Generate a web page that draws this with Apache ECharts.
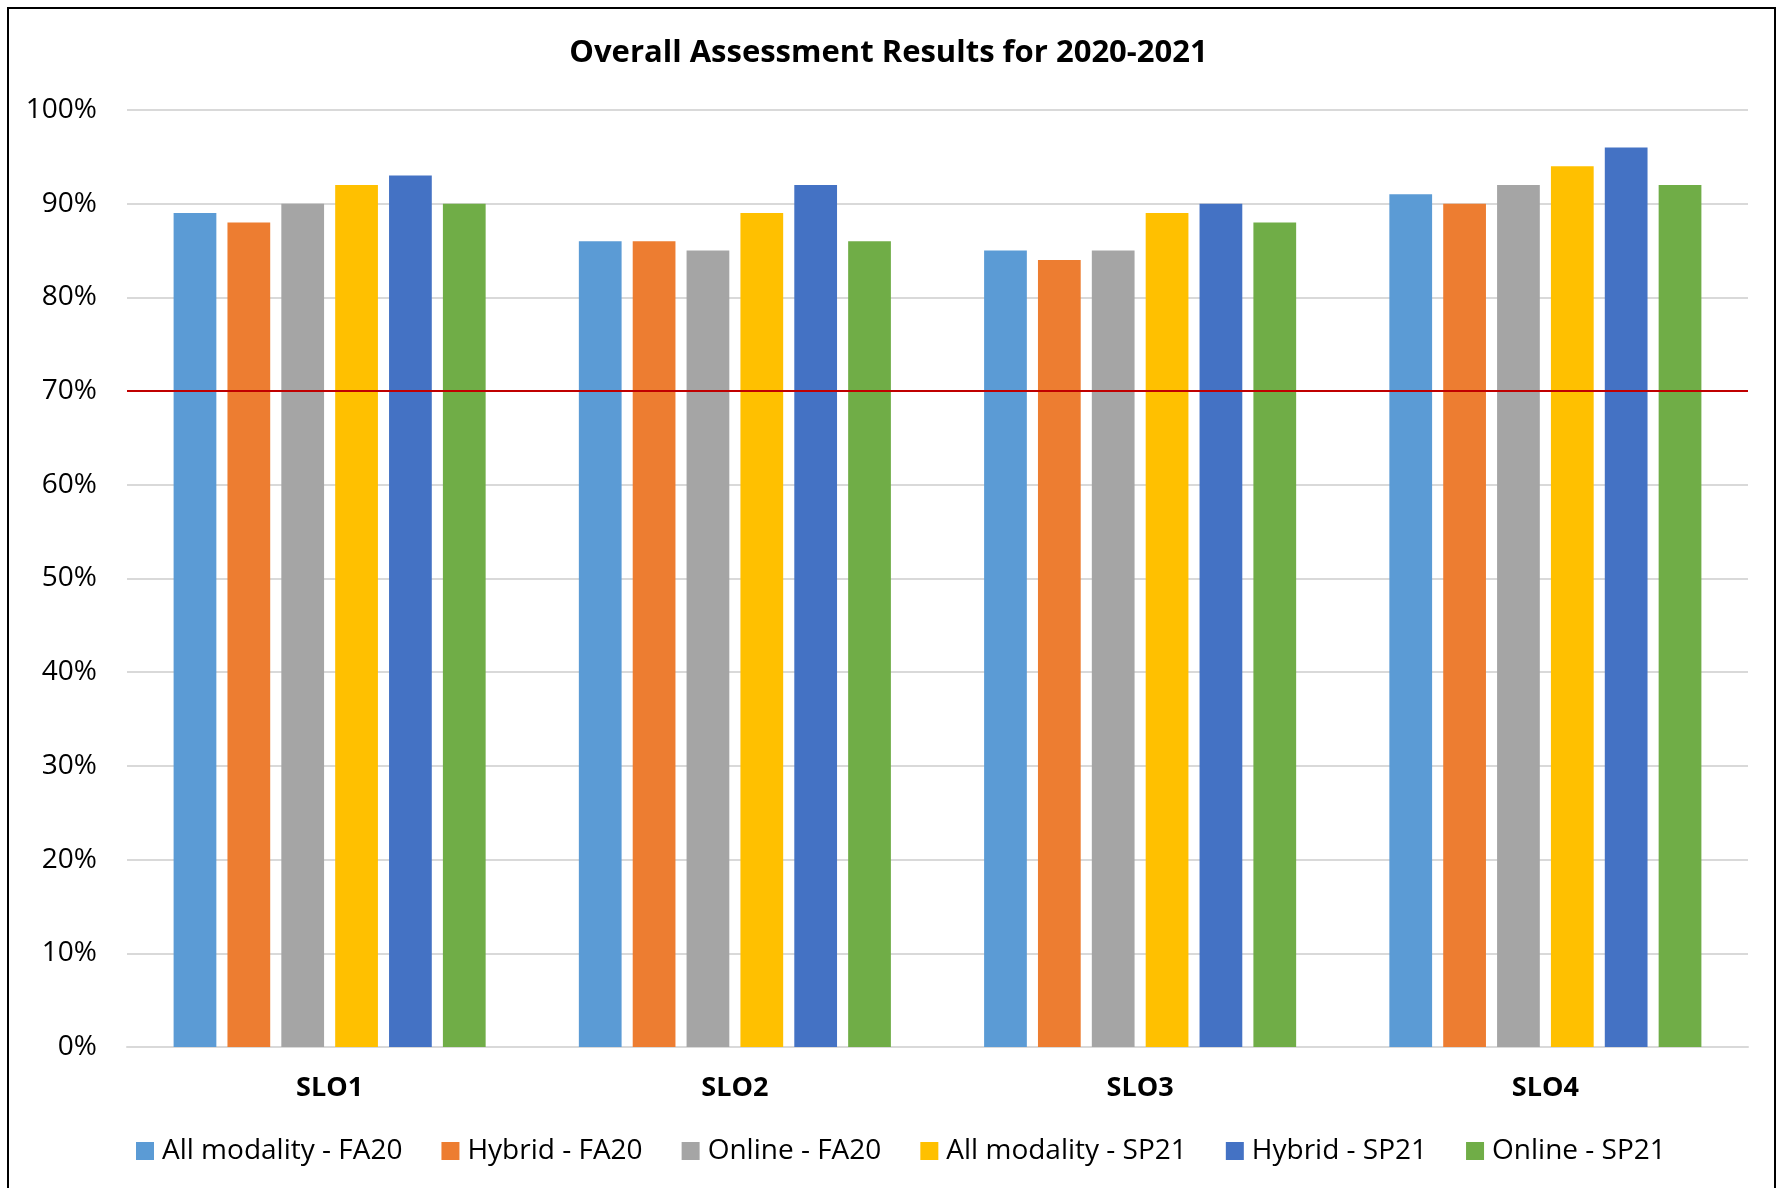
<!DOCTYPE html>
<html lang="en">
<head>
    <meta charset="UTF-8">
    <title>Overall Assessment Results for 2020-2021</title>
    <script src="https://cdn.jsdelivr.net/npm/echarts@6/dist/echarts.min.js"></script>
    <style>
        html, body { margin: 0; padding: 0; background: #fff; }
    </style>
</head>
<body>

    <div id="main" style="width: 1777px;height:1188px;"></div>

    <script type="text/javascript">
        // 数据
        var categories = ['SLO1', 'SLO2', 'SLO3', 'SLO4'];
        var seriesNames = ['All modality - FA20', 'Hybrid - FA20', 'Online - FA20',
                           'All modality - SP21', 'Hybrid - SP21', 'Online - SP21'];
        var allModalityFA20 = [89, 86, 85, 91];
        var hybridFA20      = [88, 86, 84, 90];
        var onlineFA20      = [90, 85, 85, 92];
        var allModalitySP21 = [92, 89, 89, 94];
        var hybridSP21      = [93, 92, 90, 96];
        var onlineSP21      = [90, 86, 88, 92];
        var targetLine = 70;

        var seriesValues = [allModalityFA20, hybridFA20, onlineFA20,
                            allModalitySP21, hybridSP21, onlineSP21];
        var colors = ['#5B9BD5', '#ED7D31', '#A5A5A5', '#FFC000', '#4472C4', '#70AD47'];
        var font = "'Open Sans', 'Noto Sans', sans-serif";

        var myChart = echarts.init(document.getElementById('main'));

        var series = seriesNames.map(function (name, i) {
            var s = {
                name: name,
                type: 'bar',
                data: seriesValues[i],
                barGap: '26%',
                barCategoryGap: '23%',
                itemStyle: { color: colors[i] }
            };
            if (i === 0) {
                // 70% 目标线
                s.markLine = {
                    silent: true,
                    symbol: 'none',
                    label: { show: false },
                    lineStyle: { color: '#C00000', width: 2, type: 'solid' },
                    data: [{ yAxis: targetLine }]
                };
            }
            return s;
        });

        var option = {
            color: colors,
            animation: false,
            textStyle: { fontFamily: font },
            title: {
                text: 'Overall Assessment Results for 2020-2021',
                left: 'center',
                top: 33,
                textStyle: { fontFamily: font, fontSize: 31, fontWeight: 'bold', color: '#000' }
            },
            legend: {
                data: seriesNames,
                bottom: 23,
                left: 136,
                padding: 0,
                icon: 'rect',
                itemWidth: 18,
                itemHeight: 18,
                itemGap: 39,
                textStyle: { fontFamily: font, fontSize: 28, color: '#000', padding: [0, 0, 0, 3] }
            },
            grid: { left: 127, right: 29, top: 110, bottom: 141, containLabel: false },
            xAxis: {
                type: 'category',
                data: categories,
                axisLine: { lineStyle: { color: '#D9D9D9', width: 2 } },
                axisTick: { show: false },
                axisLabel: { fontFamily: font, fontSize: 27, fontWeight: 'bold', color: '#000', margin: 28 }
            },
            yAxis: {
                type: 'value',
                min: 0,
                max: 100,
                interval: 10,
                axisLine: { show: false },
                axisTick: { show: false },
                axisLabel: { formatter: '{value}%', fontFamily: font, fontSize: 28, color: '#000', margin: 30 },
                splitLine: { lineStyle: { color: '#D9D9D9', width: 2 } }
            },
            graphic: [{
                type: 'rect',
                shape: { x: 8, y: 8, width: 1767, height: 1200 },
                style: { fill: 'none', stroke: '#000', lineWidth: 2 },
                silent: true,
                z: 100
            }],
            series: series
        };

        myChart.setOption(option);
    </script>
</body>
</html>
